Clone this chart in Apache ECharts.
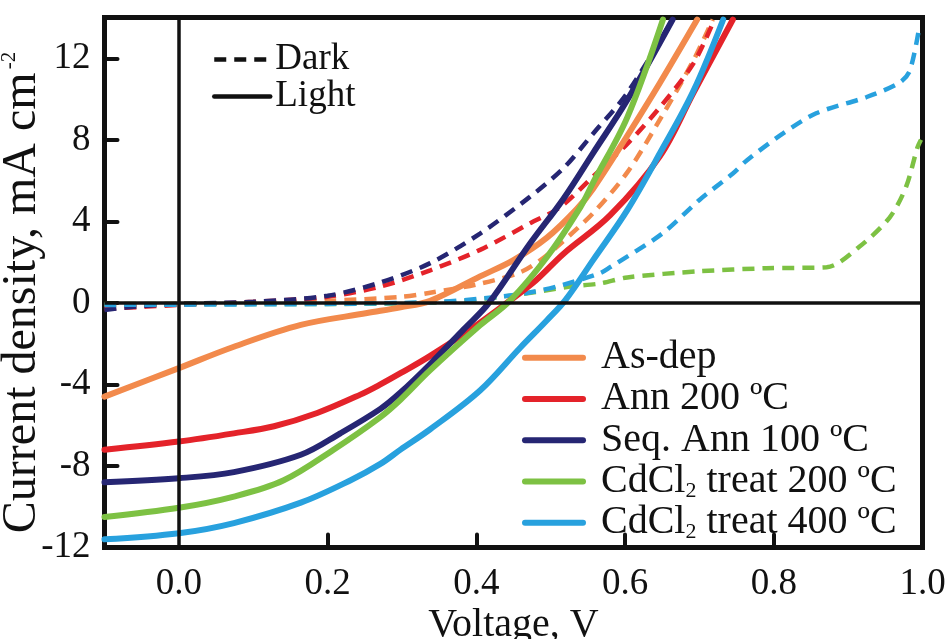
<!DOCTYPE html>
<html><head><meta charset="utf-8">
<script src="https://cdn.jsdelivr.net/npm/echarts@6/dist/echarts.min.js"></script>
<style>html,body{margin:0;padding:0;background:#fff}#c{width:950px;height:639px}</style>
</head><body><div id="c"></div>
<script>
// ---- tick labels ----
const xTickLabels = [0, 0.2, 0.4, 0.6, 0.8, 1.0];
const xTickMarks = [0.2, 0.4, 0.6, 0.8];
const yTickLabels = [-12, -8, -4, 0, 4, 8, 12];
const yTickMarks = [-8, -4, 0, 4, 8, 12];

// ---- categories ----
const sampleNames = ['As-dep', 'Ann 200 ºC', 'Seq. Ann 100 ºC', 'CdCl2 treat 200 ºC', 'CdCl2 treat 400 ºC'];
const sampleColors = ['#F28A4C', '#E4232A', '#262673', '#7DC143', '#28A1DE'];

// ---- Light (solid) J-V data [V, mA/cm2] ----
const asDepLight = [[-0.1,-4.6],[0,-3.2],[0.074,-2.15],[0.164,-1.08],[0.253,-0.5],[0.298,-0.22],[0.338,0.1],[0.405,1.3],[0.45,2.1],[0.495,3.2],[0.535,4.6],[0.557,5.6],[0.603,8.2],[0.647,10.8],[0.697,13.9]];
const ann200Light = [[-0.1,-7.2],[0,-6.8],[0.074,-6.4],[0.128,-6.05],[0.186,-5.4],[0.244,-4.5],[0.271,-4.0],[0.298,-3.45],[0.338,-2.6],[0.396,-1.2],[0.441,0],[0.48,1.1],[0.517,2.4],[0.58,4.3],[0.647,7.2],[0.692,10.3],[0.745,13.9]];
const seqAnnLight = [[-0.1,-8.8],[0,-8.6],[0.074,-8.3],[0.164,-7.45],[0.217,-6.4],[0.271,-5.2],[0.298,-4.4],[0.338,-3.0],[0.383,-1.3],[0.417,0],[0.472,2.9],[0.517,5.1],[0.557,7.35],[0.603,9.95],[0.664,13.9]];
const cdcl200Light = [[-0.1,-10.5],[0,-10.05],[0.074,-9.5],[0.141,-8.7],[0.208,-7.2],[0.271,-5.6],[0.298,-4.75],[0.338,-3.3],[0.405,-1.1],[0.445,0.1],[0.495,2.25],[0.54,4.7],[0.557,5.9],[0.603,9.1],[0.651,13.9]];
const cdcl400Light = [[-0.1,-11.6],[0,-11.3],[0.074,-10.8],[0.164,-9.8],[0.231,-8.7],[0.271,-7.9],[0.298,-7.2],[0.338,-6.2],[0.405,-4.3],[0.459,-2.2],[0.495,-0.85],[0.52,0.15],[0.557,2.1],[0.603,4.55],[0.647,7.35],[0.692,10.4],[0.732,13.9]];

// ---- Dark (dashed) J-V data ----
const asDepDark = [[-0.1,-0.1],[0,-0.05],[0.1,0],[0.2,0.1],[0.3,0.3],[0.338,0.5],[0.4,0.9],[0.459,1.5],[0.49,2.2],[0.513,2.9],[0.557,4.4],[0.603,6.4],[0.647,9.0],[0.692,11.9],[0.718,13.9]];
const ann200Dark = [[-0.1,-0.3],[0,-0.1],[0.1,0.05],[0.2,0.3],[0.271,0.8],[0.338,1.6],[0.405,2.6],[0.472,3.9],[0.513,4.7],[0.557,6.2],[0.603,7.8],[0.647,9.6],[0.692,11.75],[0.72,13.9]];
const seqAnnDark = [[-0.1,-0.35],[-0.05,-0.15],[0,-0.05],[0.1,0.05],[0.2,0.35],[0.271,1.0],[0.338,1.95],[0.405,3.4],[0.472,5.2],[0.517,6.6],[0.557,8.3],[0.603,10.3],[0.664,13.9]];
const cdcl200Dark = [[-0.1,-0.05],[0.2,-0.05],[0.365,0.05],[0.455,0.4],[0.526,0.8],[0.566,0.95],[0.603,1.25],[0.7,1.55],[0.79,1.7],[0.871,1.75],[0.915,2.75],[0.956,4.2],[0.978,5.7],[0.993,7.6],[0.998,8.0]];
const cdcl400Dark = [[-0.1,-0.1],[0.2,-0.05],[0.35,0.05],[0.43,0.3],[0.47,0.5],[0.513,0.85],[0.566,1.45],[0.58,1.75],[0.65,3.4],[0.7,5.05],[0.745,6.35],[0.764,7.0],[0.812,8.3],[0.857,9.3],[0.925,10.1],[0.969,10.8],[0.983,11.4],[0.996,13.6]];

const lightData = [asDepLight, ann200Light, seqAnnLight, cdcl200Light, cdcl400Light];
const darkData = [asDepDark, ann200Dark, seqAnnDark, cdcl200Dark, cdcl400Dark];

const FONT = 'Liberation Serif';
const INK = '#111';

const series = [];
darkData.forEach((d, i) => {
  series.push({
    name: sampleNames[i] + ' (dark)', type: 'line', data: d, smooth: 0.3,
    showSymbol: false, symbol: 'none', silent: true,
    lineStyle: { color: sampleColors[i], width: 4.5, type: [12, 8] },
    itemStyle: { color: sampleColors[i] }, z: 2
  });
});
lightData.forEach((d, i) => {
  series.push({
    name: sampleNames[i], type: 'line', data: d, smooth: 0.35,
    showSymbol: false, symbol: 'none', silent: true,
    lineStyle: { color: sampleColors[i], width: 6, cap: 'round' },
    itemStyle: { color: sampleColors[i] }, z: 3
  });
});
series.push({ name: 'Dark', type: 'line', data: [], symbol: 'none',
  lineStyle: { color: INK, width: 4.5, type: [12, 8] }, itemStyle: { color: INK } });
series.push({ name: 'Light', type: 'line', data: [], symbol: 'none',
  lineStyle: { color: INK, width: 5.5, cap: 'round' }, itemStyle: { color: INK } });
// zero reference lines
series[0].markLine = {
  silent: true, symbol: ['none', 'none'], label: { show: false },
  lineStyle: { color: INK, width: 3.5, type: 'solid' },
  emphasis: { disabled: true },
  data: [{ xAxis: 0 }, { yAxis: 0 }]
};

function legendFmt(name) {
  if (name.indexOf('CdCl2') === 0) {
    return '{g|}{a|CdCl}{s|2}{a|' + name.slice(5) + '}';
  }
  return '{g|}{a|' + name + '}';
}

const hiddenSymbol = { color: 'rgba(0,0,0,0)', borderWidth: 0, opacity: 0 };

const option = {
  animation: false,
  backgroundColor: '#fff',
  textStyle: { fontFamily: FONT },
  grid: { left: 104.5, right: 27.5, top: 17.5, bottom: 91.5, show: true,
          containLabel: false, outerBoundsMode: 'none',
          borderColor: INK, borderWidth: 5, backgroundColor: 'transparent' },
  xAxis: {
    type: 'value', min: -0.1, max: 1.0,
    name: 'Voltage, V', nameLocation: 'middle', nameGap: 58, nameMoveOverlap: false,
    nameTextStyle: { fontFamily: FONT, fontSize: 40, color: INK },
    axisLine: { show: false, onZero: false },
    axisTick: { show: true, inside: true, length: 13, customValues: xTickMarks,
                lineStyle: { color: INK, width: 4, cap: 'round' } },
    axisLabel: { customValues: xTickLabels, formatter: v => Number(v).toFixed(1),
                 fontFamily: FONT, fontSize: 37, color: INK, margin: 18 },
    splitLine: { show: false }
  },
  yAxis: {
    type: 'value', min: -12, max: 14,
    name: '{t|Current density, mA cm}{p|-2}', nameLocation: 'middle', nameGap: 58, nameMoveOverlap: false,
    nameTextStyle: { fontFamily: FONT, fontSize: 48, color: INK, padding: [0, 20, 0, 0],
      rich: { t: { fontFamily: FONT, fontSize: 48, color: INK, lineHeight: 48 },
              p: { fontFamily: FONT, fontSize: 21, color: INK, lineHeight: 21, verticalAlign: 'top', padding: [0, 0, 0, 3] } } },
    axisLine: { show: false, onZero: false },
    axisTick: { show: true, inside: true, length: 13, customValues: yTickMarks,
                lineStyle: { color: INK, width: 4, cap: 'round' } },
    axisLabel: { customValues: yTickLabels, fontFamily: FONT, fontSize: 37, color: INK, margin: 14 },
    splitLine: { show: false }
  },
  legend: [
    {
      data: ['Dark', 'Light'], orient: 'vertical', left: 212, top: 41, padding: 0,
      itemWidth: 56, itemHeight: 14, itemGap: 0, selectedMode: false,
      itemStyle: hiddenSymbol,
      lineStyle: { width: 4.5 },
      textStyle: { fontFamily: FONT, fontSize: 37, color: INK, lineHeight: 33,
        rich: { a: { fontFamily: FONT, fontSize: 37, color: INK, lineHeight: 33 } } },
      formatter: n => '{a|' + n + '}'
    },
    {
      data: sampleNames, orient: 'vertical', left: 522, top: 337, padding: 0,
      itemWidth: 58, itemHeight: 14, itemGap: 0, selectedMode: false,
      itemStyle: hiddenSymbol,
      lineStyle: { width: 6 },
      textStyle: { fontFamily: FONT, fontSize: 40, color: INK, lineHeight: 41.3,
        rich: {
          g: { width: 13 },
          a: { fontFamily: FONT, fontSize: 40, color: INK, lineHeight: 41.3 },
          s: { fontFamily: FONT, fontSize: 22, color: INK, lineHeight: 22, verticalAlign: 'bottom' }
        } },
      formatter: legendFmt
    }
  ],
  series: series
};

const chart = echarts.init(document.getElementById('c'), null, { renderer: 'canvas' });
chart.setOption(option);
</script>
</body></html>
